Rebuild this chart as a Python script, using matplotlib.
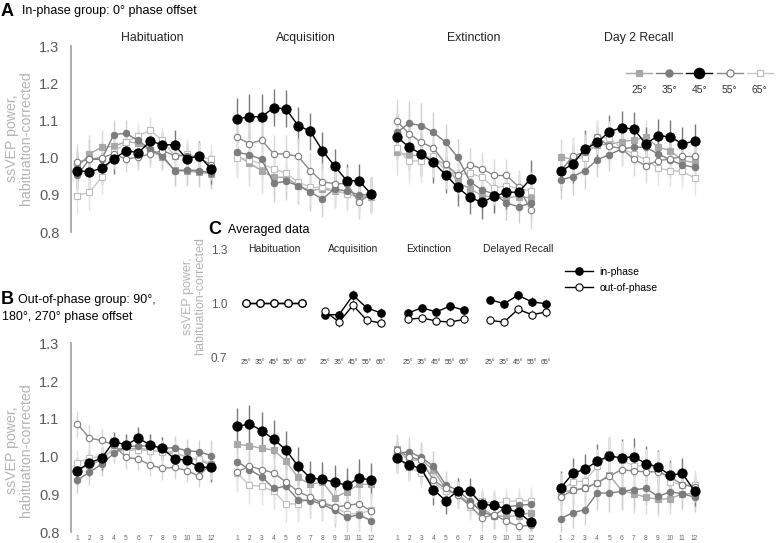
import numpy as np
import matplotlib
matplotlib.use("Agg")
import matplotlib.pyplot as plt

plt.rcParams['font.family'] = ['Liberation Sans', 'DejaVu Sans']

# ---- data ----
angles = ['25°', '35°', '45°', '55°', '65°']
trials = np.arange(1, 13)
phase_names = ['Habituation', 'Acquisition', 'Extinction', 'Day 2 Recall']

# A: in-phase group, rows = 25, 35, 45, 55, 65 deg
inph_hab = [[0.974, 1.010, 1.028, 1.030, 1.043, 1.039, 1.019, 1.001, 0.966, 0.963, 0.961, 0.956],
            [0.952, 0.996, 0.995, 1.062, 1.065, 1.046, 1.022, 1.005, 0.965, 0.967, 0.965, 0.959],
            [0.965, 0.962, 0.971, 0.996, 1.019, 1.013, 1.044, 1.035, 1.034, 0.996, 1.005, 0.970],
            [0.987, 0.996, 1.000, 1.010, 0.996, 1.001, 1.010, 1.019, 1.005, 1.005, 0.999, 0.981],
            [0.898, 0.907, 0.947, 1.014, 1.041, 1.059, 1.073, 1.046, 1.005, 1.010, 1.001, 0.996]]
inph_acq = [[1.005, 0.985, 0.965, 0.947, 0.947, 0.925, 0.911, 0.916, 0.910, 0.904, 0.893, 0.893],
            [1.014, 1.008, 0.995, 0.931, 0.936, 0.925, 0.907, 0.889, 0.916, 0.910, 0.900, 0.900],
            [1.104, 1.110, 1.110, 1.134, 1.131, 1.086, 1.071, 1.019, 0.977, 0.938, 0.938, 0.902],
            [1.055, 1.037, 1.047, 1.010, 1.010, 1.003, 0.965, 0.935, 0.930, 0.930, 0.880, 0.903],
            [1.000, 0.994, 0.983, 0.970, 0.958, 0.934, 0.920, 0.920, 0.913, 0.902, 0.893, 0.898]]
inph_ext = [[1.014, 1.007, 1.005, 0.999, 0.981, 0.934, 0.916, 0.898, 0.893, 0.893, 0.895, 0.892],
            [1.068, 1.092, 1.086, 1.068, 1.041, 1.001, 0.935, 0.913, 0.902, 0.878, 0.868, 0.877],
            [1.056, 1.028, 1.010, 0.987, 0.954, 0.920, 0.893, 0.880, 0.896, 0.907, 0.907, 0.943],
            [1.098, 1.064, 1.041, 1.026, 0.983, 0.952, 0.981, 0.970, 0.952, 0.952, 0.922, 0.859],
            [1.025, 0.990, 0.992, 1.003, 0.965, 0.954, 0.958, 0.947, 0.918, 0.925, 0.916, 0.911]]
inph_rec = [[1.001, 0.996, 1.010, 1.035, 1.035, 1.043, 1.047, 1.055, 1.028, 1.019, 0.992, 0.987],
            [0.940, 0.949, 0.965, 0.994, 1.008, 1.023, 1.028, 1.028, 1.010, 0.994, 0.980, 0.974],
            [0.963, 0.983, 1.023, 1.041, 1.070, 1.080, 1.077, 1.037, 1.059, 1.056, 1.037, 1.044],
            [0.963, 1.005, 1.014, 1.056, 1.030, 1.025, 0.996, 0.978, 0.992, 0.996, 1.003, 1.003],
            [0.967, 0.999, 0.999, 1.055, 1.053, 1.025, 1.010, 0.994, 0.972, 0.965, 0.963, 0.945]]

# B: out-of-phase group
outph_hab = [[0.964, 0.978, 0.991, 1.022, 1.020, 1.022, 1.018, 1.012, 1.009, 1.000, 0.991, 0.978],
             [0.938, 0.959, 0.980, 1.009, 1.027, 1.028, 1.029, 1.022, 1.024, 1.016, 1.013, 1.003],
             [0.963, 0.984, 0.996, 1.040, 1.031, 1.049, 1.031, 1.022, 0.994, 0.991, 0.972, 0.972],
             [1.087, 1.049, 1.043, 1.031, 0.998, 0.994, 0.978, 0.969, 0.972, 0.963, 0.949, 0.982],
             [0.984, 0.997, 1.000, 1.016, 1.016, 1.018, 1.016, 1.013, 1.013, 0.996, 0.994, 0.982]]
outph_acq = [[1.033, 1.029, 1.022, 1.018, 0.988, 0.945, 0.927, 0.933, 0.892, 0.907, 0.927, 0.927],
             [0.987, 0.966, 0.947, 0.916, 0.922, 0.886, 0.884, 0.874, 0.858, 0.840, 0.846, 0.831],
             [1.080, 1.087, 1.069, 1.046, 1.018, 0.975, 0.944, 0.940, 0.933, 0.924, 0.944, 0.938],
             [0.960, 0.975, 0.966, 0.957, 0.933, 0.908, 0.893, 0.877, 0.867, 0.871, 0.876, 0.856],
             [0.957, 0.924, 0.922, 0.908, 0.874, 0.876, 0.889, 0.880, 0.868, 0.849, 0.849, 0.858]]
outph_ext = [[1.020, 0.989, 0.993, 0.964, 0.916, 0.900, 0.876, 0.862, 0.844, 0.842, 0.844, 0.852],
             [1.009, 1.013, 0.998, 0.975, 0.926, 0.911, 0.883, 0.853, 0.844, 0.868, 0.871, 0.874],
             [0.996, 0.978, 0.969, 0.913, 0.884, 0.909, 0.908, 0.874, 0.871, 0.862, 0.853, 0.827],
             [1.018, 1.000, 0.991, 0.938, 0.916, 0.898, 0.871, 0.838, 0.847, 0.829, 0.816, 0.818],
             [0.996, 0.973, 0.956, 0.931, 0.909, 0.900, 0.868, 0.882, 0.876, 0.882, 0.883, 0.884]]
outph_rec = [[0.907, 0.911, 0.918, 0.931, 0.951, 0.911, 0.902, 0.893, 0.887, 0.889, 0.902, 0.902],
             [0.836, 0.852, 0.860, 0.904, 0.904, 0.908, 0.913, 0.916, 0.895, 0.907, 0.902, 0.893],
             [0.917, 0.956, 0.967, 0.988, 1.002, 0.997, 1.000, 0.982, 0.973, 0.951, 0.956, 0.909],
             [0.893, 0.911, 0.916, 0.931, 0.948, 0.966, 0.962, 0.960, 0.960, 0.947, 0.926, 0.920],
             [0.911, 0.933, 0.936, 0.975, 1.006, 0.991, 0.976, 0.976, 0.971, 0.933, 0.926, 0.926]]

# error bar half-lengths per phase (shared by the five angles)
inph_hab_err = [0.05, 0.05, 0.045, 0.04, 0.035, 0.035, 0.035, 0.035, 0.04, 0.04, 0.04, 0.04]
inph_acq_err = [0.055, 0.06, 0.06, 0.05, 0.05, 0.05, 0.05, 0.05, 0.045, 0.045, 0.045, 0.045]
inph_ext_err = [0.06, 0.06, 0.06, 0.055, 0.05, 0.05, 0.045, 0.045, 0.045, 0.045, 0.045, 0.05]
inph_rec_err = [0.05, 0.05, 0.05, 0.045, 0.045, 0.045, 0.045, 0.045, 0.045, 0.045, 0.045, 0.045]
outph_hab_err = [0.035, 0.035, 0.03, 0.025, 0.03, 0.03, 0.03, 0.03, 0.03, 0.03, 0.03, 0.04]
outph_acq_err = [0.05, 0.05, 0.05, 0.05, 0.05, 0.05, 0.045, 0.045, 0.045, 0.045, 0.05, 0.045]
outph_ext_err = [0.04, 0.04, 0.04, 0.04, 0.035, 0.035, 0.035, 0.035, 0.035, 0.035, 0.035, 0.035]
outph_rec_err = [0.045, 0.04, 0.04, 0.045, 0.05, 0.05, 0.05, 0.045, 0.045, 0.04, 0.04, 0.04]

# C: averaged data
avg_phases = ['Habituation', 'Acquisition', 'Extinction', 'Delayed Recall']
avg_in = [[1.0, 1.0, 1.0, 1.0, 1.0],
          [0.935, 0.935, 1.043, 0.972, 0.945],
          [0.944, 0.974, 0.950, 0.983, 0.960],
          [1.019, 0.996, 1.043, 1.006, 0.996]]
avg_out = [[1.0, 1.0, 1.0, 1.0, 1.0],
           [0.955, 0.894, 0.987, 0.903, 0.889],
           [0.909, 0.917, 0.900, 0.894, 0.909],
           [0.903, 0.894, 0.965, 0.935, 0.950]]
avg_in_err = [[0, 0, 0, 0, 0],
              [0.02, 0.02, 0.03, 0.025, 0.025],
              [0.02, 0.02, 0.02, 0.025, 0.02],
              [0.02, 0.02, 0.025, 0.025, 0.025]]
avg_out_err = [[0, 0, 0, 0, 0],
               [0.02, 0.025, 0.03, 0.025, 0.025],
               [0.02, 0.02, 0.02, 0.02, 0.02],
               [0.02, 0.02, 0.025, 0.025, 0.025]]

# ---- styles ----
styles = [
    dict(marker='s', color='#a8a8a8', mfc='#a8a8a8', mec='#a8a8a8', ms=4.0, ecolor='#dadada', z=3),
    dict(marker='o', color='#7c7c7c', mfc='#7c7c7c', mec='#7c7c7c', ms=4.6, ecolor='#cdcdcd', z=4),
    dict(marker='o', color='black', mfc='black', mec='black', ms=6.6, ecolor='#7a7a7a', z=6),
    dict(marker='o', color='#8a8a8a', mfc='white', mec='#7c7c7c', ms=4.6, ecolor='#d6d6d6', z=5),
    dict(marker='s', color='#c6c6c6', mfc='white', mec='#bdbdbd', ms=4.4, ecolor='#e2e2e2', z=3),
]

W, H = 777, 543
fig = plt.figure(figsize=(W / 100, H / 100), dpi=100)

# overlay in pixel coordinates for the free text
ov = fig.add_axes([0, 0, 1, 1])
ov.set_xlim(0, W)
ov.set_ylim(H, 0)
ov.axis('off')

lefts = [71.2, 231.2, 390.8, 554.6]
ax_w = 146
title_x = [7.2, 6.6, 7.35, 7.4]


def px_axes(left, top, width, height):
    return fig.add_axes([left / W, 1 - (top + height) / H, width / W, height / H])


def draw_group(top, bottom, data, errs, show_titles, show_x):
    for k in range(4):
        ax = px_axes(lefts[k], top, ax_w, bottom - top)
        ax.set_facecolor('none')
        ax.set_xlim(0.5, 12.5)
        ax.set_ylim(0.8, 1.3)
        for s in ax.spines.values():
            s.set_visible(False)
        if k == 0:
            ax.spines['left'].set_visible(True)
            ax.spines['left'].set_color('#a8a8a8')
            ax.spines['left'].set_linewidth(1.3)
            ax.set_yticks([0.8, 0.9, 1.0, 1.1, 1.2, 1.3])
            ax.set_yticklabels(['0.8', '0.9', '1.0', '1.1', '1.2', '1.3'])
            ax.tick_params(axis='y', length=0, pad=8.5, labelsize=10.5, labelcolor='#595959')
        else:
            ax.set_yticks([])
        if show_x:
            ax.set_xticks(trials)
            ax.tick_params(axis='x', length=0, pad=2, labelsize=4.8, labelcolor='#666666')
        else:
            ax.set_xticks([])
        for i, st in enumerate(styles):
            ax.errorbar(trials, data[k][i], yerr=errs[k], fmt='none',
                        ecolor=st['ecolor'], elinewidth=1.0, capsize=0, zorder=1)
        for i, st in enumerate(styles):
            ax.plot(trials, data[k][i], marker=st['marker'], color=st['color'],
                    mfc=st['mfc'], mec=st['mec'], ms=st['ms'], lw=1.0, mew=0.8,
                    zorder=st['z'])
        if show_titles:
            ax.text(title_x[k], 1.322, phase_names[k], ha='center', va='center',
                    fontsize=8.8, color='#222222', clip_on=False)


draw_group(46, 232, [inph_hab, inph_acq, inph_ext, inph_rec],
           [inph_hab_err, inph_acq_err, inph_ext_err, inph_rec_err], True, False)
draw_group(343.3, 532.3, [outph_hab, outph_acq, outph_ext, outph_rec],
           [outph_hab_err, outph_acq_err, outph_ext_err, outph_rec_err], False, True)

# panel labels and y labels
ov.text(1, 11, 'A', fontsize=13, fontweight='bold', va='center', ha='left')
ov.text(22, 11, 'In-phase group: 0° phase offset', fontsize=9, va='center', ha='left')
ov.text(1, 300, 'B', fontsize=13, fontweight='bold', va='center', ha='left')
ov.text(18, 300, 'Out-of-phase group: 90°,', fontsize=9, va='center', ha='left')
ov.text(2, 317, '180°, 270° phase offset', fontsize=9, va='center', ha='left')
ov.text(208, 229.5, 'C', fontsize=13, fontweight='bold', va='center', ha='left')
ov.text(228, 229.5, 'Averaged data', fontsize=9, va='center', ha='left')

ylab = 'ssVEP power,\nhabituation-corrected'
ov.text(19, 138, ylab, rotation=90, ha='center', va='center', fontsize=10.2,
        color='#b4b4b4', linespacing=1.05, multialignment='center')
ov.text(19, 450, ylab, rotation=90, ha='center', va='center', fontsize=10.2,
        color='#b4b4b4', linespacing=1.05, multialignment='center')
ov.text(194, 296, ylab, rotation=90, ha='center', va='center', fontsize=9,
        color='#b4b4b4', linespacing=1.0, multialignment='center')

# legend for A/B
for i, st in enumerate(styles):
    cx = 639 + 30.2 * i
    ov.plot([cx - 13, cx + 13], [73, 73], color=st['color'], lw=1.0)
    ov.plot([cx], [73], marker=st['marker'], mfc=st['mfc'], mec=st['mec'],
            ms=st['ms'] * 1.12, mew=0.9, color=st['color'])
    ov.text(cx, 90, angles[i], ha='center', va='center', fontsize=7.5, color='#333333')

# ---- C: averaged data ----
c_lefts = [237.6, 316.6, 399.6, 481.6]
c_title_x = [2.0, 2.0, 1.45, 2.0]
apos = np.arange(5)
for k in range(4):
    ax = px_axes(c_lefts[k], 249, 72.8, 108)
    ax.set_facecolor('none')
    ax.set_xlim(-0.6, 4.6)
    ax.set_ylim(0.7, 1.3)
    for s in ax.spines.values():
        s.set_visible(False)
    if k == 0:
        ax.set_yticks([0.7, 1.0, 1.3])
        ax.set_yticklabels(['0.7', '1.0', '1.3'])
        ax.tick_params(axis='y', length=0, pad=7.5, labelsize=8.5, labelcolor='#595959')
    else:
        ax.set_yticks([])
    ax.set_xticks(apos)
    ax.set_xticklabels(angles)
    ax.tick_params(axis='x', length=0, pad=1.5, labelsize=5.0, labelcolor='#444444')
    ax.errorbar(apos, avg_in[k], yerr=avg_in_err[k], fmt='none', ecolor='#666666',
                elinewidth=0.8, capsize=0, zorder=1)
    ax.errorbar(apos, avg_out[k], yerr=avg_out_err[k], fmt='none', ecolor='#666666',
                elinewidth=0.8, capsize=0, zorder=1)
    ax.plot(apos, avg_in[k], marker='o', color='black', mfc='black', mec='black',
            ms=5.2, lw=1.0, zorder=3, label='in-phase')
    ax.plot(apos, avg_out[k], marker='o', color='black', mfc='white', mec='black',
            ms=5.2, lw=1.0, mew=0.8, zorder=4, label='out-of-phase')
    ax.text(c_title_x[k], 1.3, avg_phases[k], ha='center', va='center',
            fontsize=7.5, color='#222222', clip_on=False)
    if k == 3:
        ax.legend(loc='upper left', bbox_to_anchor=(565 / W, 1 - 267 / H),
                  bbox_transform=fig.transFigure, frameon=False, fontsize=7.5,
                  handlelength=2.7, handletextpad=0.6, labelspacing=0.55,
                  borderpad=0, borderaxespad=0)

fig.savefig('out.png', dpi=100)
